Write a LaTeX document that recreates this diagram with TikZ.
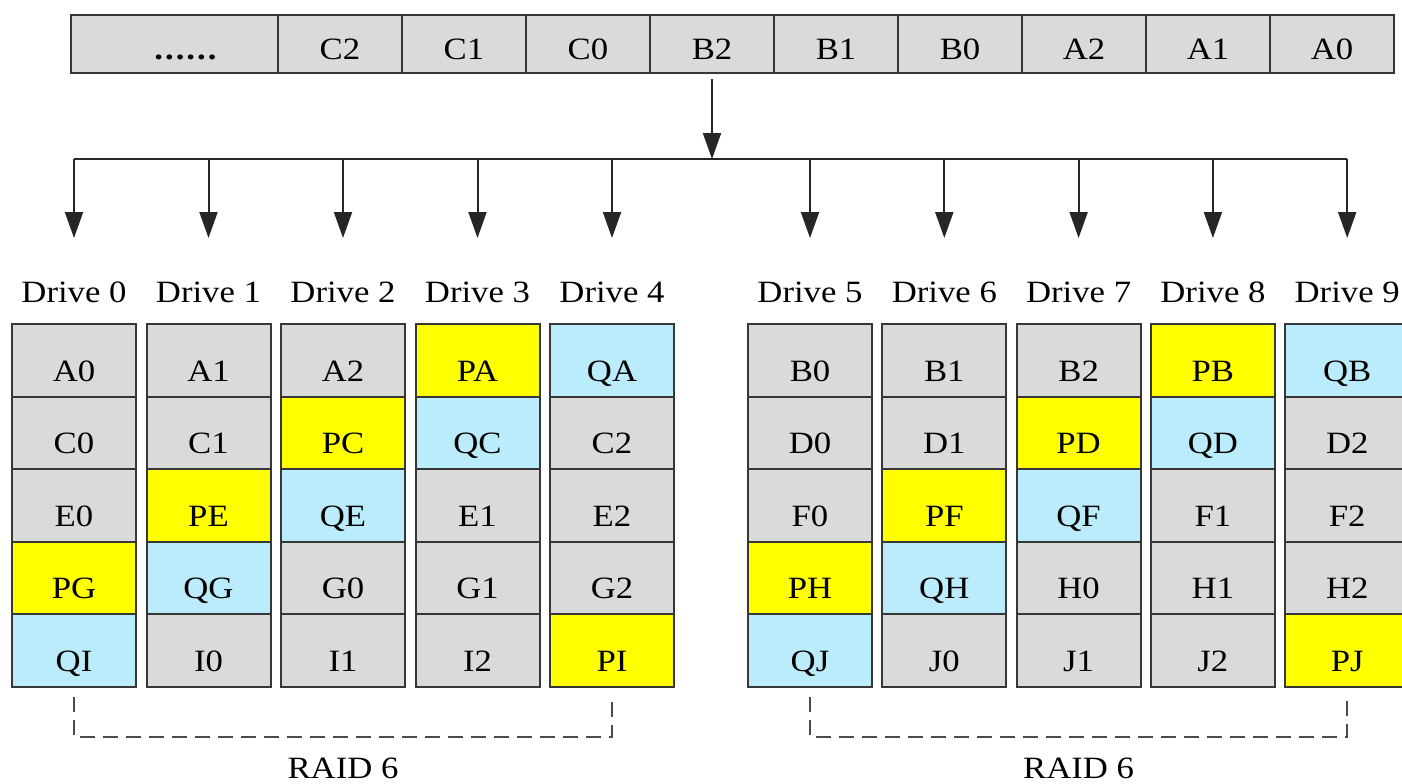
\documentclass[tikz,border=0pt]{standalone}
\usepackage{fontspec}
\setmainfont{Liberation Serif}[FakeStretch=1.12]
\usetikzlibrary{arrows.meta,positioning,calc}
\definecolor{dgray}{RGB}{218,218,218}
\definecolor{pyel}{RGB}{255,255,0}
\definecolor{qblu}{RGB}{187,236,251}
\definecolor{ink}{RGB}{55,55,55}
\newcommand{\figfont}{\fontsize{15.5}{18}\selectfont}
\tikzset{
  >={Triangle[width=9pt,length=13pt]},
  blk/.style={draw=ink,fill=dgray,line width=1pt,minimum width=62pt,minimum height=29pt,
    inner sep=0pt,text height=15pt,text depth=0pt,font=\figfont},
  cell/.style={draw=ink,fill=#1,line width=1pt,minimum width=62pt,minimum height=36.3pt,
    inner sep=0pt,text height=20.7pt,text depth=0pt,font=\figfont},
  cell/.default=dgray,
  tag/.style={font=\figfont,inner sep=0pt},
  flow/.style={->,line width=1pt,draw=black!85},
  raid/.style={draw=ink!90,line width=0.8pt,dash pattern=on 7.5pt off 4pt},
}

\begin{document}
\begin{tikzpicture}[x=0.5pt,y=-0.5pt]
  \useasboundingbox (0,0) rectangle (1402,783);
  % incoming stripe of blocks
  \node[blk,minimum width=103.5pt,anchor=north west] (blk0) at (70,14)
    {\hspace*{11pt}\textbf{.\kern1pt.\kern1pt.\kern1pt.\kern1pt.\kern1pt.}};
  \foreach \b [count=\i] in {C2,C1,C0,B2,B1,B0,A2,A1,A0}
    \node[blk,anchor=north west] (blk\i) at (153+124*\i,14) {\b};
  \coordinate (bus) at (0,159);
  \draw[flow] ([yshift=-2.5pt]blk4.south) -- (blk4.south |- bus);

  % drives, one column each
  \foreach \col [count=\dr from 0] in {
    {A0/dgray,C0/dgray,E0/dgray,PG/pyel,QI/qblu},
    {A1/dgray,C1/dgray,PE/pyel,QG/qblu,I0/dgray},
    {A2/dgray,PC/pyel,QE/qblu,G0/dgray,I1/dgray},
    {PA/pyel,QC/qblu,E1/dgray,G1/dgray,I2/dgray},
    {QA/qblu,C2/dgray,E2/dgray,G2/dgray,PI/pyel},
    {B0/dgray,D0/dgray,F0/dgray,PH/pyel,QJ/qblu},
    {B1/dgray,D1/dgray,PF/pyel,QH/qblu,J0/dgray},
    {B2/dgray,PD/pyel,QF/qblu,H0/dgray,J1/dgray},
    {PB/pyel,QD/qblu,F1/dgray,H1/dgray,J2/dgray},
    {QB/qblu,D2/dgray,F2/dgray,H2/dgray,PJ/pyel}}{
    \pgfmathsetmacro{\xc}{\dr<5 ? 74+134.5*\dr : 810+134.3*(\dr-5)}
    \node[tag,anchor=base] (lbl\dr) at (\xc,302) {Drive \dr};
    \coordinate (tip\dr) at (\xc,238);
    \draw[flow] (bus -| tip\dr) -- (tip\dr);
    \foreach \t/\c [count=\r from 0] in \col
      \node[cell=\c,anchor=north] (d\dr-\r) at (\xc,323+72.6*\r) {\t};
  }
  \draw[line width=1pt,black!85] (bus -| tip0) -- (bus -| tip9);

  % the two RAID 6 groups
  \foreach \lo/\hi [count=\g] in {0/4,5/9}{
    \draw[raid] ([yshift=-4.5pt]d\lo-4.south) -- ++(0,40) -| ([yshift=-4.5pt]d\hi-4.south);
    \coordinate (mid\g) at ($(d\lo-4.south)!.5!(d\hi-4.south)$);
    \node[tag,anchor=base] (raid\g) at (mid\g |- 0,778) {RAID 6};
  }
\end{tikzpicture}
\end{document}
